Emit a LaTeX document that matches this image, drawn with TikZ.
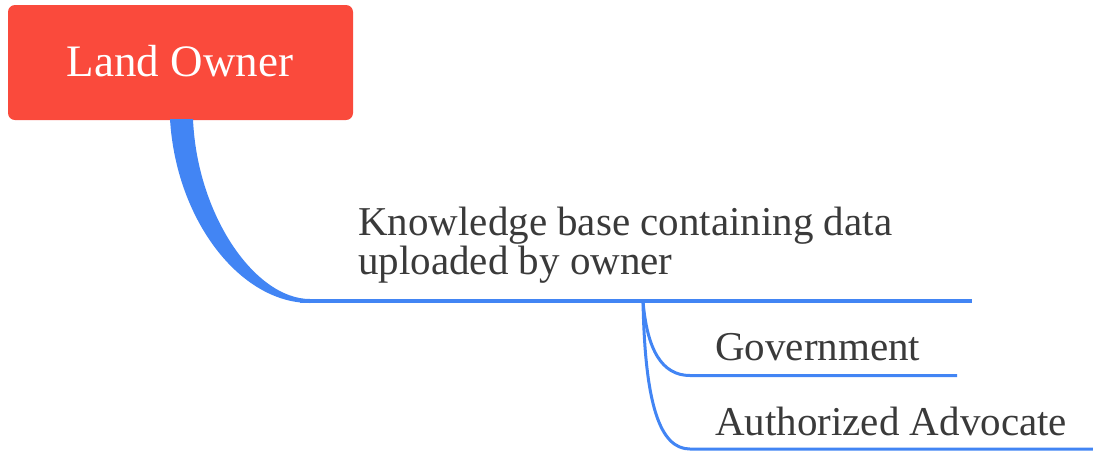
\documentclass[tikz,border=0pt]{standalone}
\usepackage{fontspec}
\setmainfont{LiberationSerif}[Extension=.ttf, UprightFont=*-Regular, BoldFont=*-Bold]
\definecolor{ownerred}{HTML}{FA4A3C}
\definecolor{branchblue}{HTML}{4285F4}
\definecolor{labelgray}{HTML}{3A3A3A}
\tikzset{
  rootbox/.style={fill=ownerred, rounded corners=7pt, minimum width=345pt, minimum height=115pt,
    inner sep=0pt},
  rootlabel/.style={anchor=base, inner sep=0pt, text=white, font=\fontsize{45}{50}\selectfont},
  leaflabel/.style={anchor=base west, inner sep=0pt, text=labelgray, font=\fontsize{41}{37}\selectfont, align=left},
  branch/.style={draw=branchblue, line width=3.5pt},
  subbranch/.style={draw=branchblue, line width=3pt}
}
\begin{document}
\begin{tikzpicture}[x=1pt, y=-1pt]
  \useasboundingbox (0,0) rectangle (1093,451);

  % root topic
  \node[rootbox] (owner) at (180.5,62.5) {};
  \node[rootlabel] (ownertext) at (180,76) {Land Owner};

  % anchor points of the branches
  \coordinate (kbend) at (972,301);
  \coordinate (fork) at (643,301);
  \coordinate (govstart) at (690,375.5);
  \coordinate (govend) at (957,375.5);
  \coordinate (advstart) at (690,449);
  \coordinate (advend) at (1093,449);

  % tapered main branch from the root box
  \fill[branchblue] (170,119) .. controls (176,220) and (240,303) .. (310,303)
    -- (310,299) .. controls (255,299) and (197,215) .. (193,119) -- cycle;
  \draw[branch] (300,301) -- (kbend);

  % sub-branches
  \draw[subbranch] (fork) .. controls (647,350) and (662,375.5) .. (govstart) -- (govend);
  \draw[subbranch] (fork) .. controls (645,405) and (660,449) .. (advstart) -- (advend);

  % labels (the two-line label sits on the baseline of its last line)
  \node[leaflabel] (kb) at (358,274) {Knowledge base containing data\\uploaded by owner};
  \node[leaflabel] (gov) at (715,360) {Government};
  \node[leaflabel] (adv) at (715,435) {Authorized Advocate};
\end{tikzpicture}
\end{document}
